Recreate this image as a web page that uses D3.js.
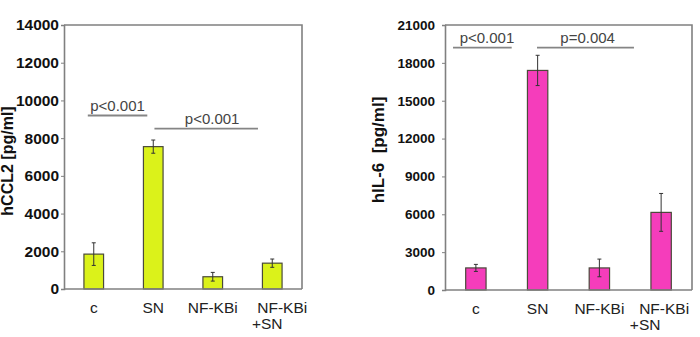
<!DOCTYPE html>
<html>
<head>
<meta charset="utf-8">
<script src="https://cdn.jsdelivr.net/npm/d3@7"></script>
<style>
  body { margin: 0; background: #fff; }
  text { font-family: Arial, "Liberation Sans", sans-serif; }
</style>
</head>
<body>
<svg id="chart" width="700" height="337"></svg>
<script>
// categories shared by both panels
var categories = ["c", "SN", "NF-KBi", "NF-KBi\n+SN"];

// hCCL2 panel
var ccl2Means = [1850, 7550, 650, 1370];
var ccl2Errors = [600, 350, 230, 220];
var ccl2Ticks = [0, 2000, 4000, 6000, 8000, 10000, 12000, 14000];
// brackets: [from index, to index, y value, label, label index position]
var ccl2Brackets = [
    [-0.1, 0.9, 9200, "p<0.001", 0.4],
    [1.02, 2.76, 8500, "p<0.001", 1.99]
];

// hIL-6 panel
var il6Means = [1750, 17400, 1750, 6150];
var il6Errors = [280, 1200, 700, 1500];
var il6Ticks = [0, 3000, 6000, 9000, 12000, 15000, 18000, 21000];
var il6Brackets = [
    [-0.37, 0.58, 19200, "p<0.001", 0.18],
    [0.99, 2.56, 19200, "p=0.004", 1.81]
];

var svg = d3.select("#chart");

function panel(opts) {
    var g = svg.append("g");
    var x = d3.scaleBand().domain(categories).range([opts.left, opts.right]).paddingInner(0.67).paddingOuter(0.335);
    var xi = d3.scaleLinear().domain([-0.5, categories.length - 0.5]).range([opts.left, opts.right]);
    var y = d3.scaleLinear().domain([0, d3.max(opts.ticks)]).range([opts.bottom, opts.top]);

    // frame (top / right)
    g.append("path")
        .attr("d", "M" + opts.left + "," + opts.top + "H" + opts.right + "V" + opts.bottom)
        .attr("fill", "none").attr("stroke", "#808080").attr("stroke-width", 1.6);

    var data = categories.map(function(c, i) { return {cat: c, mean: opts.means[i], err: opts.errors[i]}; });

    g.selectAll("rect.bar").data(data).enter().append("rect")
        .attr("class", "bar")
        .attr("x", function(d) { return x(d.cat); })
        .attr("width", x.bandwidth())
        .attr("y", function(d) { return y(d.mean); })
        .attr("height", function(d) { return y(0) - y(d.mean); })
        .attr("fill", opts.color)
        .attr("stroke", "#4a4a3a").attr("stroke-width", 1.2);

    var eb = g.selectAll("g.err").data(data).enter().append("g").attr("class", "err")
        .attr("stroke", "#333").attr("stroke-width", 1);
    eb.append("line")
        .attr("x1", function(d) { return x(d.cat) + x.bandwidth() / 2; })
        .attr("x2", function(d) { return x(d.cat) + x.bandwidth() / 2; })
        .attr("y1", function(d) { return y(d.mean + d.err); })
        .attr("y2", function(d) { return y(d.mean - d.err); });
    [1, -1].forEach(function(s) {
        eb.append("line")
            .attr("x1", function(d) { return x(d.cat) + x.bandwidth() / 2 - 2; })
            .attr("x2", function(d) { return x(d.cat) + x.bandwidth() / 2 + 2; })
            .attr("y1", function(d) { return y(d.mean + s * d.err); })
            .attr("y2", function(d) { return y(d.mean + s * d.err); });
    });

    // y axis
    var yAxis = g.append("g")
        .attr("transform", "translate(" + opts.left + ",0)")
        .call(d3.axisLeft(y).tickValues(opts.ticks).tickSize(3).tickPadding(opts.tickPad).tickFormat(d3.format("d")));
    yAxis.select(".domain").attr("stroke", "#808080").attr("stroke-width", 1.6);
    yAxis.selectAll(".tick line").attr("stroke", "#808080");
    yAxis.selectAll(".tick text")
        .attr("fill", "#111").attr("font-size", opts.tickSize + "px").attr("font-weight", "bold")
        .style("font-family", "Arial, 'Liberation Sans', sans-serif");

    // x axis
    var xAxis = g.append("g")
        .attr("transform", "translate(0," + opts.bottom + ")")
        .call(d3.axisBottom(x).tickSize(0).tickFormat(""));
    xAxis.select(".domain").attr("stroke", "#808080").attr("stroke-width", 1.6)
        .attr("d", "M" + opts.left + ",0H" + opts.right);

    var xl = g.selectAll("text.xl").data(categories).enter().append("text")
        .attr("class", "xl")
        .attr("fill", "#222").attr("font-size", "15.5px")
        .attr("text-anchor", "middle");
    xl.each(function(c) {
        var parts = c.split("\n");
        var cx = x(c) + x.bandwidth() / 2;
        var t = d3.select(this);
        parts.forEach(function(p, k) {
            t.append("tspan")
                .attr("x", parts.length > 1 ? (k === 0 ? cx + opts.l1Shift : cx + opts.l2Shift) : cx)
                .attr("y", opts.bottom + 24 + k * 16)
                .text(p);
        });
    });

    // y label
    g.append("text")
        .attr("transform", "translate(" + opts.labelX + "," + opts.labelY + ") rotate(-90)")
        .attr("text-anchor", "middle")
        .attr("font-size", opts.labelSize + "px").attr("font-weight", "bold").attr("fill", "#111")
        .attr("xml:space", "preserve")
        .text(opts.label);

    // significance brackets
    opts.brackets.forEach(function(b) {
        g.append("line")
            .attr("x1", xi(b[0])).attr("x2", xi(b[1]))
            .attr("y1", y(b[2])).attr("y2", y(b[2]))
            .attr("stroke", "#858585").attr("stroke-width", 1.8);
        g.append("text")
            .attr("x", xi(b[4])).attr("y", y(b[2]) - 5)
            .attr("text-anchor", "middle")
            .attr("font-size", "15px").attr("fill", "#444")
            .text(b[3]);
    });
}

panel({
    left: 64, right: 302, top: 25, bottom: 289,
    means: ccl2Means, errors: ccl2Errors, ticks: ccl2Ticks, brackets: ccl2Brackets,
    color: "#dbf21a", tickSize: 15.5, tickPad: 2,
    label: "hCCL2 [pg/ml]", labelX: 13, labelY: 161, labelSize: 16,
    l1Shift: 10, l2Shift: -5
});

panel({
    left: 445, right: 692, top: 25, bottom: 290,
    means: il6Means, errors: il6Errors, ticks: il6Ticks, brackets: il6Brackets,
    color: "#f53dbb", tickSize: 13.5, tickPad: 7,
    label: "hIL-6  [pg/ml]", labelX: 384, labelY: 150, labelSize: 17,
    l1Shift: 3, l2Shift: -16
});
</script>
</body>
</html>
